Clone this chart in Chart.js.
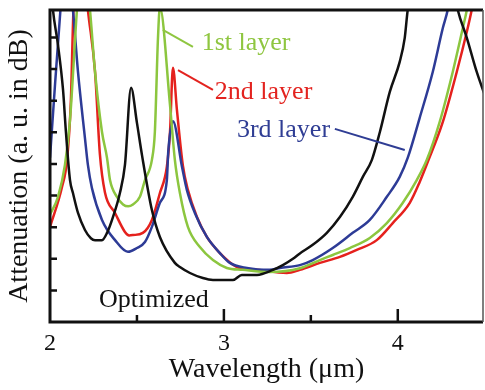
<!DOCTYPE html>
<html>
<head>
<meta charset="utf-8">
<script src="https://cdn.jsdelivr.net/npm/chart.js@4.4.1/dist/chart.umd.min.js"></script>
<style>
  html, body { margin: 0; padding: 0; background: #fff; }
  #wrap { width: 485px; height: 390px; }
</style>
</head>
<body>
<div id="wrap"><canvas id="chart"></canvas></div>
<script>
// wavelength in um, attenuation in arbitrary units (one unit per y tick)
const optimizedX = [2.0, 2.017, 2.046, 2.075, 2.092, 2.115, 2.132, 2.161, 2.201, 2.235, 2.259, 2.299, 2.328, 2.362, 2.402, 2.431, 2.466, 2.5, 2.529, 2.586, 2.632, 2.718, 2.747, 2.805, 2.879, 2.937, 3.052, 3.103, 3.19, 3.282, 3.339, 3.397, 3.437, 3.511, 3.592, 3.667, 3.741, 3.799, 3.851, 3.897, 3.954, 4.011, 4.04, 4.057, 4.2, 4.345, 4.397, 4.454, 4.5];
const optimizedY = [11.0, 9.87, 8.76, 7.34, 5.98, 4.49, 4.08, 3.45, 2.91, 2.65, 2.59, 2.59, 2.82, 3.32, 4.08, 4.97, 7.41, 6.3, 5.28, 3.54, 2.69, 1.87, 1.74, 1.55, 1.39, 1.33, 1.33, 1.49, 1.49, 1.65, 1.80, 2.00, 2.17, 2.44, 2.82, 3.32, 3.96, 4.59, 5.13, 6.01, 7.28, 8.23, 8.99, 9.87, 14.0, 9.87, 8.99, 7.91, 7.18];

const layer1X = [2.0, 2.046, 2.086, 2.115, 2.155, 2.19, 2.23, 2.259, 2.299, 2.328, 2.345, 2.385, 2.42, 2.45, 2.477, 2.517, 2.546, 2.586, 2.603, 2.621, 2.632, 2.69, 2.718, 2.747, 2.793, 2.862, 2.937, 3.017, 3.109, 3.264, 3.437, 3.552, 3.626, 3.724, 3.839, 3.937, 4.029, 4.109, 4.167, 4.241, 4.316, 4.374, 4.397, 4.42];
const layer1Y = [3.4, 3.96, 4.97, 6.39, 9.87, 12.0, 9.87, 7.91, 6.01, 5.19, 4.49, 3.96, 3.72, 3.66, 3.72, 3.96, 4.49, 5.13, 6.01, 8.99, 9.95, 6.87, 5.13, 4.08, 3.01, 2.37, 1.96, 1.71, 1.65, 1.58, 1.70, 1.96, 2.12, 2.34, 2.66, 3.13, 3.77, 4.49, 5.13, 6.33, 7.91, 9.30, 9.87, 10.6];

const layer2X = [2.0, 2.069, 2.098, 2.12, 2.135, 2.18, 2.218, 2.259, 2.287, 2.316, 2.374, 2.431, 2.455, 2.477, 2.534, 2.586, 2.632, 2.672, 2.69, 2.707, 2.73, 2.764, 2.793, 2.845, 2.902, 2.977, 3.075, 3.19, 3.362, 3.437, 3.552, 3.667, 3.764, 3.879, 3.971, 4.069, 4.126, 4.172, 4.259, 4.339, 4.397, 4.425, 4.45];
const layer2Y = [3.0, 4.27, 5.13, 7.0, 9.87, 12.0, 9.87, 7.91, 5.3, 4.1, 3.45, 2.85, 2.74, 2.75, 2.82, 3.23, 4.08, 4.91, 6.0, 8.04, 6.7, 4.95, 4.18, 3.32, 2.69, 2.18, 1.74, 1.65, 1.55, 1.65, 1.87, 2.06, 2.28, 2.59, 3.13, 3.77, 4.43, 5.06, 6.33, 7.91, 9.18, 9.87, 10.6];

const layer3X = [2.0, 2.03, 2.06, 2.09, 2.132, 2.161, 2.201, 2.218, 2.241, 2.299, 2.374, 2.448, 2.5, 2.546, 2.586, 2.632, 2.672, 2.68, 2.707, 2.759, 2.787, 2.833, 2.902, 2.977, 3.034, 3.132, 3.264, 3.322, 3.437, 3.511, 3.626, 3.741, 3.839, 3.937, 4.011, 4.057, 4.126, 4.201, 4.259, 4.287, 4.31];
const layer3Y = [5.2, 7.6, 9.87, 12.0, 9.87, 7.91, 5.82, 4.97, 4.24, 3.23, 2.59, 2.22, 2.34, 2.53, 3.01, 3.77, 4.49, 5.38, 6.35, 4.91, 4.18, 3.45, 2.69, 2.18, 1.87, 1.71, 1.65, 1.71, 1.80, 1.96, 2.34, 2.82, 3.23, 3.96, 4.59, 5.19, 6.46, 7.91, 9.30, 9.87, 10.6];

const xTickLabels = ['2', '3', '4'];
const xMajorTicks = [3, 4];
const xMinorTicks = [2.5, 3.5];
const yTicks = [1, 2, 3, 4, 5, 6, 7, 8, 9];

const serif = '"Liberation Serif", "DejaVu Serif", serif';

const pts = (xs, ys) => xs.map((x, i) => ({ x: x, y: ys[i] }));

// curve labels with their pointer lines, in data units
const notes = [
  { text: '1st layer', color: '#8fc640', at: [2.872, 8.61], line: [[2.649, 9.24], [2.822, 8.70]] },
  { text: '2nd layer', color: '#e3231f', at: [2.948, 7.06], line: [[2.736, 7.97], [2.937, 7.34]] },
  { text: '3rd layer', color: '#2f3d94', at: [3.075, 5.85], line: [[3.638, 6.11], [4.04, 5.44]] },
  { text: 'Optimized', color: '#111', at: [2.282, 0.47], line: null }
];

const framePlugin = {
  id: 'frame',
  afterDatasetsDraw(chart) {
    const { ctx, chartArea: a, scales: { x, y } } = chart;
    ctx.save();

    notes.forEach(n => {
      if (n.line) {
        ctx.strokeStyle = n.color;
        ctx.lineWidth = 2;
        ctx.beginPath();
        ctx.moveTo(x.getPixelForValue(n.line[0][0]), y.getPixelForValue(n.line[0][1]));
        ctx.lineTo(x.getPixelForValue(n.line[1][0]), y.getPixelForValue(n.line[1][1]));
        ctx.stroke();
      }
      ctx.fillStyle = n.color;
      ctx.font = '26px ' + serif;
      ctx.textBaseline = 'alphabetic';
      ctx.textAlign = 'left';
      ctx.fillText(n.text, x.getPixelForValue(n.at[0]), y.getPixelForValue(n.at[1]));
    });

    // inward ticks
    ctx.strokeStyle = '#111';
    ctx.lineWidth = 2.5;
    ctx.beginPath();
    xMajorTicks.forEach(v => {
      const px = x.getPixelForValue(v);
      ctx.moveTo(px, a.bottom); ctx.lineTo(px, a.bottom - 13);
    });
    xMinorTicks.forEach(v => {
      const px = x.getPixelForValue(v);
      ctx.moveTo(px, a.bottom); ctx.lineTo(px, a.bottom - 7);
    });
    yTicks.forEach(v => {
      const py = y.getPixelForValue(v);
      ctx.moveTo(a.left, py); ctx.lineTo(a.left + 7, py);
    });
    ctx.stroke();

    // frame
    ctx.lineWidth = 3;
    ctx.beginPath();
    ctx.moveTo(a.right, a.top);
    ctx.lineTo(a.left, a.top);
    ctx.lineTo(a.left, a.bottom);
    ctx.lineTo(a.right, a.bottom);
    ctx.stroke();
    ctx.strokeStyle = '#555';
    ctx.lineWidth = 1.5;
    ctx.beginPath();
    ctx.moveTo(a.right, a.top);
    ctx.lineTo(a.right, a.bottom);
    ctx.stroke();
    ctx.restore();
  }
};

const line = (label, data, color) => ({
  label: label,
  data: data,
  borderColor: color,
  borderWidth: 2.5,
  pointRadius: 0,
  cubicInterpolationMode: 'monotone',
  clip: 0,
  fill: false
});

new Chart(document.getElementById('chart'), {
  type: 'line',
  data: {
    datasets: [
      line('Optimized', pts(optimizedX, optimizedY), '#111111'),
      line('1st layer', pts(layer1X, layer1Y), '#8cc63f'),
      line('3rd layer', pts(layer3X, layer3Y), '#2d3b96'),
      line('2nd layer', pts(layer2X, layer2Y), '#e5211d')
    ]
  },
  options: {
    responsive: true,
    maintainAspectRatio: false,
    animation: false,
    layout: { padding: { top: 10, right: 2, left: 0, bottom: 0 } },
    plugins: { legend: { display: false }, tooltip: { enabled: false } },
    scales: {
      x: {
        type: 'linear',
        min: 2,
        max: 4.49,
        grid: { display: false, drawTicks: false },
        border: { display: false },
        ticks: {
          stepSize: 1,
          includeBounds: false,
          maxRotation: 0,
          padding: 7,
          color: '#111',
          font: { family: serif, size: 24 },
          callback: v => xTickLabels.includes(String(v)) ? String(v) : ''
        },
        title: {
          display: true,
          text: 'Wavelength (\u03bcm)',
          color: '#111',
          font: { family: serif, size: 28, lineHeight: 1 },
          padding: { top: 0, bottom: 6 }
        },
        afterFit(scale) { scale.height = 68; }
      },
      y: {
        type: 'linear',
        min: 0,
        max: 9.87,
        grid: { display: false, drawTicks: false },
        border: { display: false },
        ticks: { display: false },
        title: {
          display: true,
          text: 'Attenuation (a. u. in dB)',
          color: '#111',
          font: { family: serif, size: 28, lineHeight: 1 },
          padding: { top: 6, bottom: 0 }
        },
        afterFit(scale) { scale.width = 50; }
      }
    }
  },
  plugins: [framePlugin]
});
</script>
</body>
</html>
